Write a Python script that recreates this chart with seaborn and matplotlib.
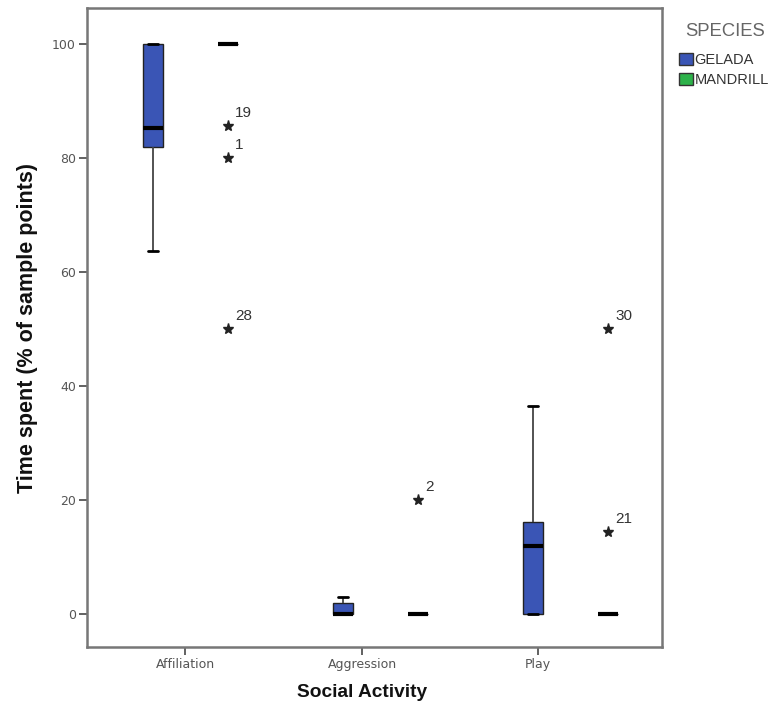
import matplotlib
matplotlib.use("Agg")
import matplotlib.pyplot as plt
import seaborn as sns
import pandas as pd
from matplotlib.patches import Patch

sns.set_theme(style="white")
plt.rcParams["font.family"] = ["Liberation Sans", "DejaVu Sans"]

activities = ["Affiliation", "Aggression", "Play"]
species = ["GELADA", "MANDRILL"]

# Time spent (% of sample points) per individual
gelada_affiliation = [63.6, 82.0, 85.3, 100.0, 100.0]
gelada_aggression = [0.0, 0.0, 0.0, 2.0, 3.0]
gelada_play = [0.0, 0.0, 11.9, 16.1, 36.5]
mandrill_affiliation = [100.0, 100.0, 100.0, 100.0, 100.0, 100.0, 100.0,
                        100.0, 100.0, 100.0, 85.6, 80.0, 50.0]
mandrill_aggression = [0.0, 0.0, 0.0, 0.0, 0.0, 0.0, 0.0, 0.0, 0.0, 0.0, 20.0]
mandrill_play = [0.0, 0.0, 0.0, 0.0, 0.0, 0.0, 0.0, 0.0, 0.0, 0.0, 50.0, 14.4]

# Case numbers of the extreme values
extreme_cases = [
    ("Affiliation", 85.6, "19"),
    ("Affiliation", 80.0, "1"),
    ("Affiliation", 50.0, "28"),
    ("Aggression", 20.0, "2"),
    ("Play", 50.0, "30"),
    ("Play", 14.4, "21"),
]

# Category label positions on the x axis (axis grid is narrower than the box grid)
tick_positions = [-0.029, 0.903, 1.829]

groups = {
    ("Affiliation", "GELADA"): gelada_affiliation,
    ("Aggression", "GELADA"): gelada_aggression,
    ("Play", "GELADA"): gelada_play,
    ("Affiliation", "MANDRILL"): mandrill_affiliation,
    ("Aggression", "MANDRILL"): mandrill_aggression,
    ("Play", "MANDRILL"): mandrill_play,
}
rows = [(a, s, v) for (a, s), vals in groups.items() for v in vals]
df = pd.DataFrame(rows, columns=["activity", "species", "value"])

colors = {"GELADA": "#3a55b5", "MANDRILL": "#2db24a"}

fig = plt.figure(figsize=(7.73, 7.13), dpi=100)
ax = fig.add_axes([0.1125, 0.0926, 0.744, 0.896])

box_width = 0.79
sns.boxplot(
    data=df, x="activity", y="value", hue="species",
    order=activities, hue_order=species, palette=colors,
    width=box_width, gap=0.734, whis=1.5, linewidth=1.0, linecolor="#222222",
    saturation=1,
    medianprops=dict(color="black", linewidth=3.0),
    whiskerprops=dict(color="#444444", linewidth=1.3),
    capprops=dict(color="black", linewidth=2.0),
    flierprops=dict(marker="*", markersize=8, markerfacecolor="#222222",
                    markeredgecolor="#222222"),
    legend=False, ax=ax,
)

offset = box_width / 4
for act, val, case in extreme_cases:
    xc = activities.index(act) + offset
    ax.annotate(case, (xc, val), xytext=(5, 6.5), textcoords="offset points",
                fontsize=11, color="#333333", ha="left", va="baseline")

ax.set_xlim(-0.545, 2.482)
ax.set_ylim(-5.8, 106.3)
ax.set_xticks(tick_positions)
ax.set_xticklabels(activities, family=["DejaVu Sans"])
ax.set_yticks([0, 20, 40, 60, 80, 100])
ax.set_yticklabels(["0", "20", "40", "60", "80", "100"], family=["DejaVu Sans"])
ax.tick_params(axis="both", which="both", length=6, width=1.3, color="#555555",
               labelsize=9, labelcolor="#555555", bottom=True, left=True, pad=2)
ax.set_xlabel("Social Activity", fontsize=13.8, fontweight="bold",
              color="#111111")
ax.xaxis.set_label_coords(0.478, -0.058)
ax.set_ylabel("Time spent (% of sample points)", fontsize=15.5,
              fontweight="bold", color="#111111")
ax.yaxis.set_label_coords(-0.086, 0.5)
for sp in ax.spines.values():
    sp.set_color("#777777")
    sp.set_linewidth(1.8)

# Species legend to the right of the plot
fig.text(0.886, 0.9558, "SPECIES", fontsize=13.3, color="#666666",
         ha="left", va="center")
handles = [Patch(facecolor=colors[s], edgecolor="#333333", label=s)
           for s in species]
leg = fig.legend(handles=handles, loc="upper left",
                 bbox_to_anchor=(0.878, 0.926), frameon=False,
                 fontsize=10.5, handlelength=0.95,
                 handleheight=0.9, handletextpad=0.15, labelspacing=0.44,
                 borderaxespad=0.0, borderpad=0.0)
for t in leg.get_texts():
    t.set_color("#333333")

fig.savefig("out.png", dpi=100, facecolor="white")
